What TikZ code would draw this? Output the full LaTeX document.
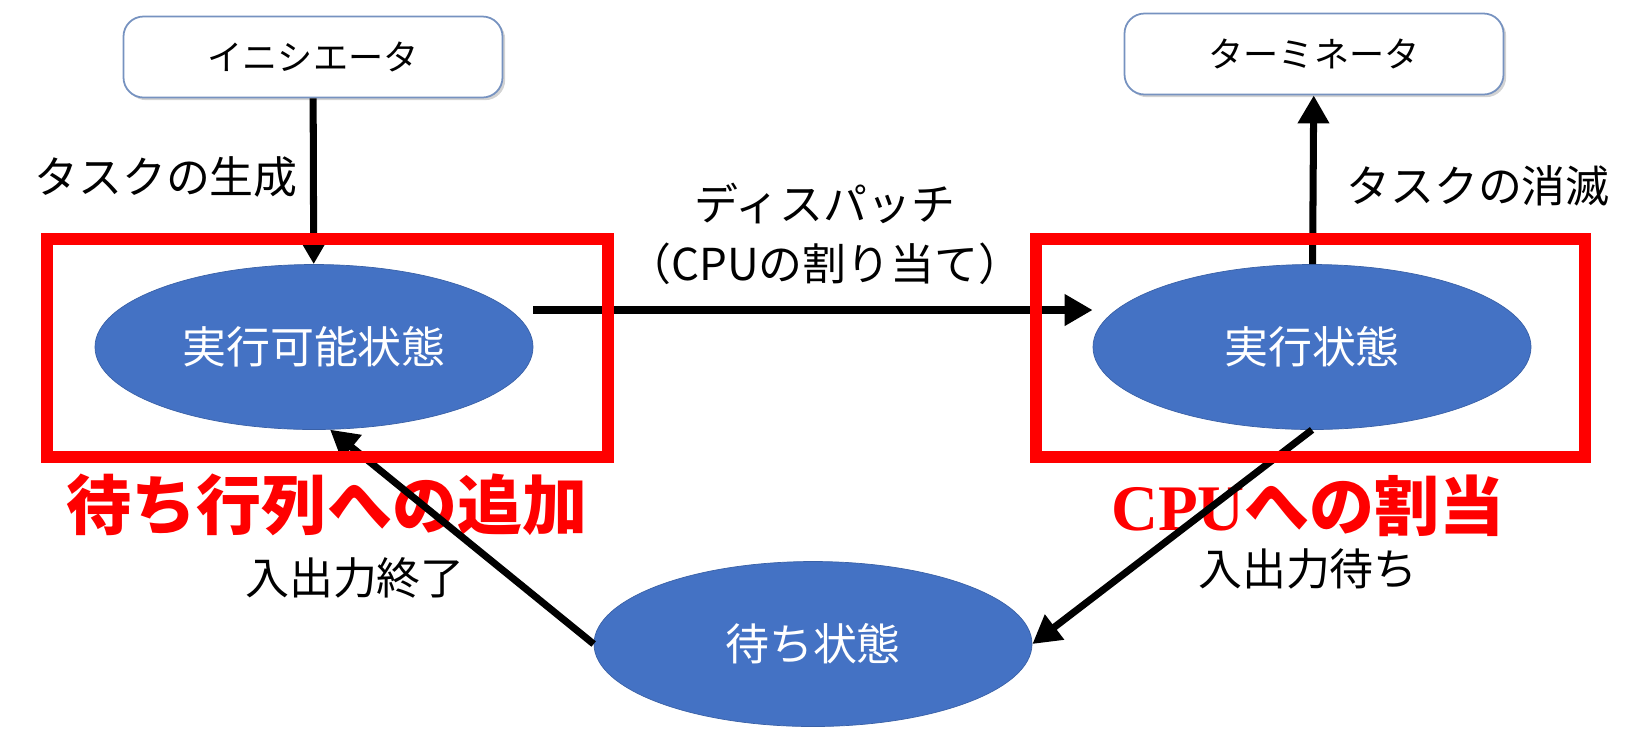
\documentclass[tikz,border=0pt]{standalone}
\usepackage{fontspec}
\usepackage{xcolor}
\usetikzlibrary{shapes.geometric, arrows.meta, positioning, calc, shadows}
\setmainfont{Noto Sans CJK JP}
\newfontfamily\timesfont{Liberation Serif}
\definecolor{stateblue}{RGB}{68, 114, 196}
\definecolor{boxborder}{RGB}{118, 146, 192}
\definecolor{markred}{RGB}{255, 0, 0}

\tikzset{
  statenode/.style={ellipse, fill=stateblue, draw=stateblue!85!black, line width=0.4pt,
    minimum width=8.76cm, minimum height=3.3cm, inner sep=0pt,
    text=white, font=\fontsize{25}{30}\selectfont},
  endbox/.style={rectangle, rounded corners=0.4cm, draw=boxborder, line width=1pt, fill=white,
    minimum width=7.58cm, minimum height=1.62cm,
    font=\fontsize{20}{24}\selectfont,
    drop shadow={shadow xshift=1.5pt, shadow yshift=-1.5pt, opacity=0.35}},
  arr/.style={line width=4pt, -{Triangle[length=0.56cm, width=0.6cm]}},
  edgelabel/.style={font=\fontsize{25}{34}\selectfont, align=center, inner sep=0pt},
  redframe/.style={draw=markred, line width=0.24cm},
  redlabel/.style={text=markred, font=\fontsize{37}{42}\selectfont\bfseries, inner sep=0pt}
}

\begin{document}
\begin{tikzpicture}
    \useasboundingbox (0,0) rectangle (33,-14.88);

    % States
    \node[statenode] (ready) at (6.28,-6.94) {実行可能状態};
    \node[statenode] (run) at (26.24,-6.94) {実行状態};
    \node[statenode] (wait) at (16.26,-12.88) {待ち状態};

    % Initiator / terminator
    \node[endbox] (init) at (6.26,-1.14) {イニシエータ};
    \node[endbox] (term) at (26.28,-1.08) {ターミネータ};

    % Labels
    \node[edgelabel] (gen) at (3.32,-3.54) {タスクの生成};
    \node[edgelabel] (kill) at (29.56,-3.72) {タスクの消滅};
    \node[edgelabel] (disp) at (16.5,-4.68) {ディスパッチ\\（CPUの割り当て）};
    \node[edgelabel] (iodone) at (7.1,-11.56) {入出力終了};
    \node[edgelabel] (iowait) at (26.16,-11.38) {入出力待ち};

    % Red notes
    \node[redlabel] (enq) at (6.54,-10.1) {待ち行列への追加};
    \node[redlabel] (alloc) at (26.16,-10.12) {{\timesfont CPU}への割当};

    % Transitions
    \draw[arr] ([yshift=0.74cm]ready.east) -- ([yshift=0.74cm]run.west);
    \draw[arr] (init) -- (ready);
    \draw[arr] (run) -- (term);
    \draw[arr] (run.south) -- (wait.east);
    \draw[arr] (wait.west) -- (ready.-79);

    % Frames
    \draw[redframe] (0.93,-4.77) rectangle (12.15,-9.14);
    \draw[redframe] (20.71,-4.77) rectangle (31.69,-9.14);
\end{tikzpicture}
\end{document}
